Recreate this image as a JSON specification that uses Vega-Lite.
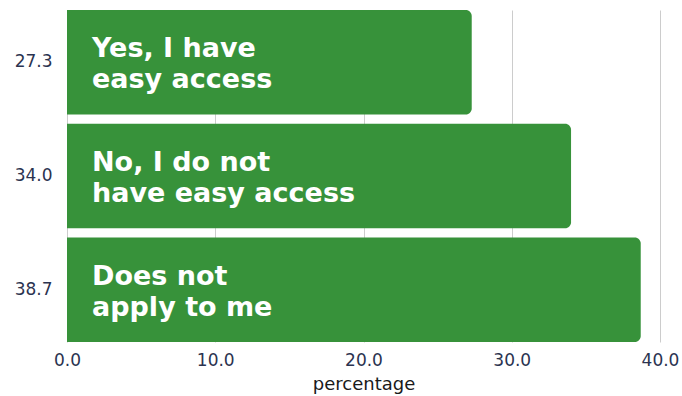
{
  "$schema": "https://vega.github.io/schema/vega-lite/v6.json",
  "width": 593,
  "height": 332,
  "autosize": {"type": "none"},
  "padding": {"left": 67, "top": 10, "right": 22, "bottom": 54},
  "background": "white",
  "config": {"view": {"stroke": null}, "font": "DejaVu Sans"},
  "data": {"values": [
    {"label": "Yes, I have\neasy access", "rowLabel": "27.3", "percentage": 27.3},
    {"label": "No, I do not\nhave easy access", "rowLabel": "34.0", "percentage": 34.0},
    {"label": "Does not\napply to me", "rowLabel": "38.7", "percentage": 38.7}
  ]},
  "encoding": {
    "y": {"field": "rowLabel", "type": "nominal", "sort": null,
      "scale": {"paddingInner": 0.08, "paddingOuter": 0},
      "axis": {"title": null, "ticks": false, "domain": false,
        "labelFontSize": 17, "labelColor": "#2b3350", "labelPadding": 15, "grid": false}}
  },
  "layer": [
    {
      "mark": {"type": "bar", "color": "#37923a", "cornerRadiusEnd": 6},
      "encoding": {
        "x": {"field": "percentage", "type": "quantitative", "stack": null,
          "scale": {"domain": [0, 40], "nice": false},
          "axis": {"title": "percentage", "format": ".1f", "values": [0, 10, 20, 30, 40],
            "ticks": false, "domain": false, "grid": true, "gridColor": "#cccccc",
            "labelFlush": false, "labelFontSize": 17, "labelColor": "#2b3350", "labelPadding": 10,
            "titleFontSize": 18, "titleFontWeight": "normal", "titleColor": "#1a1a1a", "titlePadding": 7}}
      }
    },
    {
      "mark": {"type": "text", "align": "left", "baseline": "alphabetic", "dx": 25, "dy": -5, "lineBreak": "\n",
        "color": "white", "fontSize": 27, "fontWeight": "bold", "lineHeight": 31},
      "encoding": {
        "x": {"datum": 0, "type": "quantitative"},
        "text": {"field": "label"}
      }
    }
  ]
}
